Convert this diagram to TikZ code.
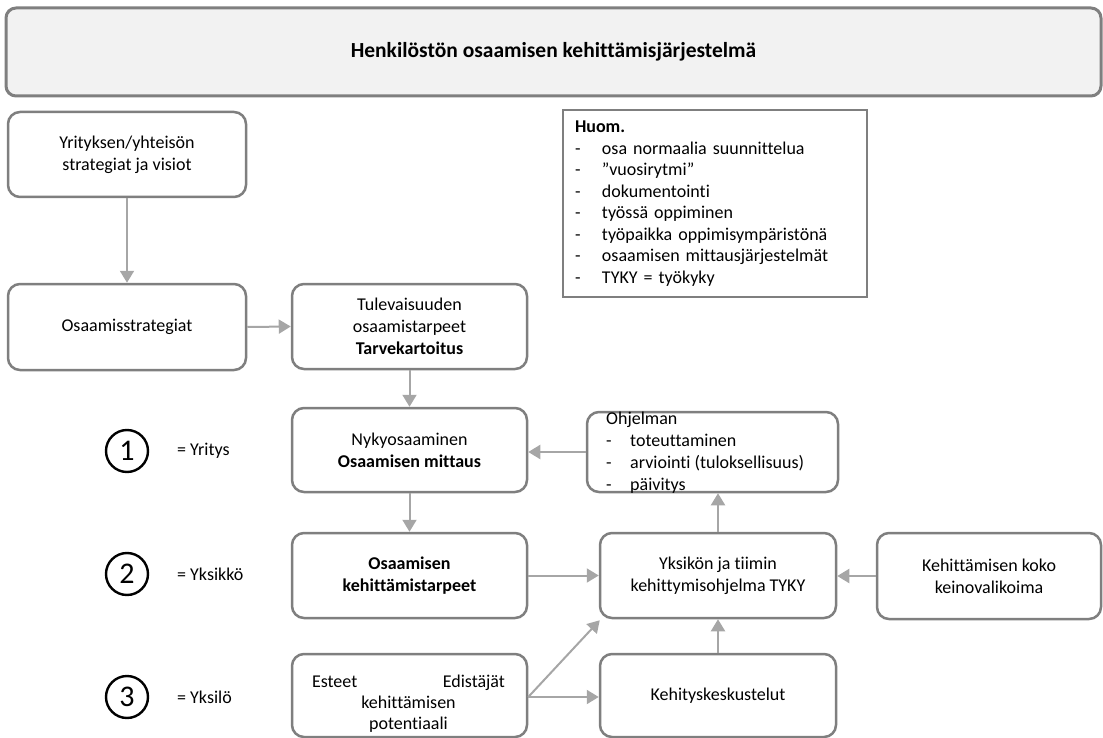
\documentclass[tikz,border=0pt]{standalone}
\usepackage{fontspec}
\setmainfont{Carlito}[Ligatures={NoCommon}]
\usetikzlibrary{arrows.meta}
\definecolor{boxgray}{HTML}{7F7F7F}
\definecolor{arrgray}{HTML}{A6A6A6}
\definecolor{titlefill}{HTML}{F2F2F2}
\begin{document}
\begin{tikzpicture}[x=1pt,y=-1pt,
  every node/.style={font=\fontsize{18}{22}\selectfont, inner sep=0pt},
  box/.style={draw=boxgray, line width=2.5pt, rounded corners=12pt, fill=white, align=center},
  conn/.style={draw=arrgray, line width=2pt, -{Triangle[length=12pt,width=14pt]}},
  numc/.style={circle, draw=black, line width=2.4pt, minimum size=42pt, font=\fontsize{30}{30}\selectfont},
  lvl/.style={anchor=west},
]
\useasboundingbox (0,0) rectangle (1103,738);

% title
\node[box, fill=titlefill, rounded corners=10pt, line width=3pt, minimum width=1095pt, minimum height=88pt, font=\fontsize{21.5}{26}\selectfont\bfseries] (title) at (553.5,52) {Henkilöstön osaamisen kehittämisjärjestelmä};

% boxes
\node[box, minimum width=238pt, minimum height=85pt] (yr) at (127,154.5) {Yrityksen/yhteisön\\strategiat ja visiot};
\node[box, minimum width=238pt, minimum height=86pt] (os) at (127,327) {Osaamisstrategiat};
\node[box, minimum width=235pt, minimum height=85pt] (tu) at (409.5,326.5) {Tulevaisuuden\\osaamistarpeet\\\textbf{Tarvekartoitus}};
\node[box, minimum width=235pt, minimum height=84pt] (ny) at (409.5,450) {Nykyosaaminen\\\textbf{Osaamisen mittaus}};
\node[box, minimum width=251pt, minimum height=80pt] (oh) at (712.5,452) {};
\node[box, minimum width=235pt, minimum height=85pt, font=\fontsize{18}{22}\selectfont\bfseries] (ke) at (409.5,575.5) {Osaamisen\\kehittämistarpeet};
\node[box, minimum width=236pt, minimum height=85pt] (yk) at (718,575.5) {Yksikön ja tiimin\\kehittymisohjelma TYKY};
\node[box, minimum width=224pt, minimum height=86pt] (kk) at (989,576) {Kehittämisen koko\\keinovalikoima};
\node[box, minimum width=235pt, minimum height=83pt] (es) at (409.5,695.5) {};
\node[box, minimum width=236pt, minimum height=83pt] (kes) at (718,695.5) {Kehityskeskustelut};

% texts placed over boxes
\node[anchor=west, align=left] (ohtext) at (606,453) {Ohjelman\\\makebox[24pt][l]{-}toteuttaminen\\\makebox[24pt][l]{-}arviointi (tuloksellisuus)\\\makebox[24pt][l]{-}päivitys};
\node[align=center, font=\fontsize{18}{21}\selectfont] (estext) at (408.5,704) {\makebox[193pt]{Esteet\hfill Edistäjät}\\kehittämisen\\potentiaali};

% note box
\node[draw=boxgray, line width=2.5pt, minimum width=304pt, minimum height=187pt, text width=280pt, inner xsep=12pt, align=left, font=\fontsize{18}{21.5}\selectfont] (huom) at (715,203.5) {\textbf{Huom.}\\
\makebox[27pt][l]{-}osa normaalia suunnittelua\\
\makebox[27pt][l]{-}”vuosirytmi”\\
\makebox[27pt][l]{-}dokumentointi\\
\makebox[27pt][l]{-}työssä oppiminen\\
\makebox[27pt][l]{-}työpaikka oppimisympäristönä\\
\makebox[27pt][l]{-}osaamisen mittausjärjestelmät\\
\makebox[27pt][l]{-}TYKY = työkyky};

% levels
\node[numc] (c1) at (127,451) {1};
\node[numc] (c2) at (127,574) {2};
\node[numc] (c3) at (127,697) {3};
\node[lvl] (l1) at (177,451) {= Yritys};
\node[lvl] (l2) at (177,574) {= Yksikkö};
\node[lvl] (l3) at (177,697) {= Yksilö};

% connectors
\draw[conn] (yr.south) -- (os.north);
\draw[conn] (os.east) -- (tu.west);
\draw[conn] (tu.south) -- (ny.north);
\draw[conn] (oh.west) -- (oh.west -| ny.east);
\draw[conn] (ny.south) -- (ke.north);
\draw[conn] (ke.east) -- (ke.east -| yk.west);
\draw[conn] (kk.west) -- (kk.west -| yk.east);
\draw[conn] (yk.north) -- (yk.north |- oh.south);
\draw[conn] (kes.north) -- (yk.south);
\coordinate (esout) at ([yshift=-1.5pt]es.east);
\draw[conn] (esout) -- (esout -| kes.west);
\draw[conn] (esout) -- ([xshift=1pt,yshift=-1pt]yk.south west);
\end{tikzpicture}
\end{document}
